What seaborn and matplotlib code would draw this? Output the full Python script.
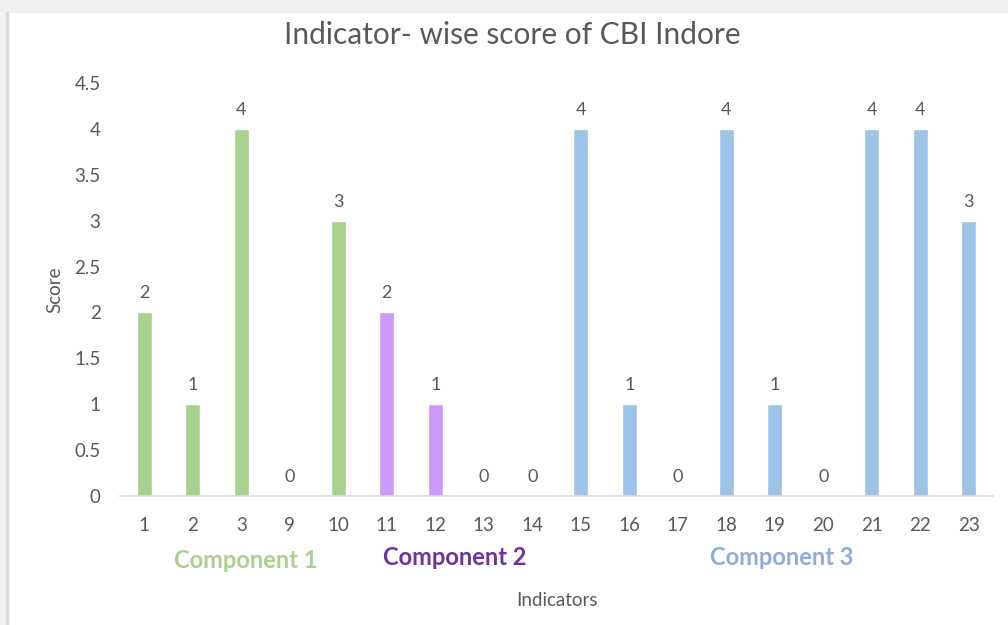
import matplotlib
matplotlib.use("Agg")
import matplotlib.pyplot as plt
import matplotlib.patches as mpatches
import pandas as pd
import seaborn as sns

# indicator numbers, scores and which component they belong to
indicators = ["1", "2", "3", "9", "10", "11", "12", "13", "14",
              "15", "16", "17", "18", "19", "20", "21", "22", "23"]
scores = [2, 1, 4, 0, 3, 2, 1, 0, 0, 4, 1, 0, 4, 1, 0, 4, 4, 3]
components = ["Component 1"] * 5 + ["Component 2"] * 4 + ["Component 3"] * 9

bar_colors = {"Component 1": "#a9d18e", "Component 2": "#cc99ff", "Component 3": "#9dc3e6"}
label_colors = {"Component 1": "#a9d18e", "Component 2": "#7030a0", "Component 3": "#8faadc"}

df = pd.DataFrame({"indicator": indicators, "score": scores, "component": components})

sns.set_style("white")
plt.rcParams["font.family"] = ["Lato", "DejaVu Sans"]
grey = "#595959"

fig = plt.figure(figsize=(10.08, 6.25), dpi=100)
# window-ish frame from the screenshot
fig.patches.append(mpatches.Rectangle((0, 1 - 12 / 625), 1, 12 / 625, transform=fig.transFigure,
                                      color="#efefef", zorder=0))
fig.patches.append(mpatches.Rectangle((0, 0), 6 / 1008, 1 - 12 / 625, transform=fig.transFigure,
                                      color="#f3f3f3", zorder=0))
fig.patches.append(mpatches.Rectangle((6 / 1008, 0), 2 / 1008, 1 - 12 / 625, transform=fig.transFigure,
                                      color="#d9d9d9", zorder=0))

ax = fig.add_axes([120 / 1008, 1 - 496 / 625, 873 / 1008, 413 / 625])
sns.barplot(data=df, x="indicator", y="score", hue="component", palette=bar_colors,
            width=0.31, dodge=False, legend=False, saturation=1, ax=ax)

for c in ax.containers:
    ax.bar_label(c, labels=[f"{v:g}" for v in c.datavalues], padding=8,
                 fontsize=13, color=grey)

ax.set_ylim(0, 4.5)
ax.set_yticks([i * 0.5 for i in range(10)])
ax.set_yticklabels([f"{i * 0.5:g}" for i in range(10)])
ax.set_xlim(-0.5, len(indicators) - 0.5)
ax.tick_params(axis="both", length=0, labelsize=13.5, labelcolor=grey)
ax.tick_params(axis="x", pad=15)
ax.tick_params(axis="y", pad=14)
sns.despine(ax=ax, left=True)
ax.spines["bottom"].set_color("#d9d9d9")
ax.spines["bottom"].set_linewidth(1.2)

ax.set_xlabel("Indicators", fontsize=13.5, color=grey, labelpad=42)
ax.set_ylabel("Score", fontsize=13.5, color=grey, labelpad=8)
fig.text(0.508, 1 - 35 / 625, "Indicator- wise score of CBI Indore", ha="center", va="center",
         fontsize=21.5, color=grey)

# component captions under the tick labels
comp_pos = {"Component 1": (2.1, -0.155), "Component 2": (6.4, -0.148), "Component 3": (13.15, -0.148)}
for name, (xc, yc) in comp_pos.items():
    ax.text(xc, yc, name, transform=ax.get_xaxis_transform(), ha="center", va="center",
            fontsize=17, fontweight="bold", color=label_colors[name])

fig.savefig("out.png", dpi=100)
